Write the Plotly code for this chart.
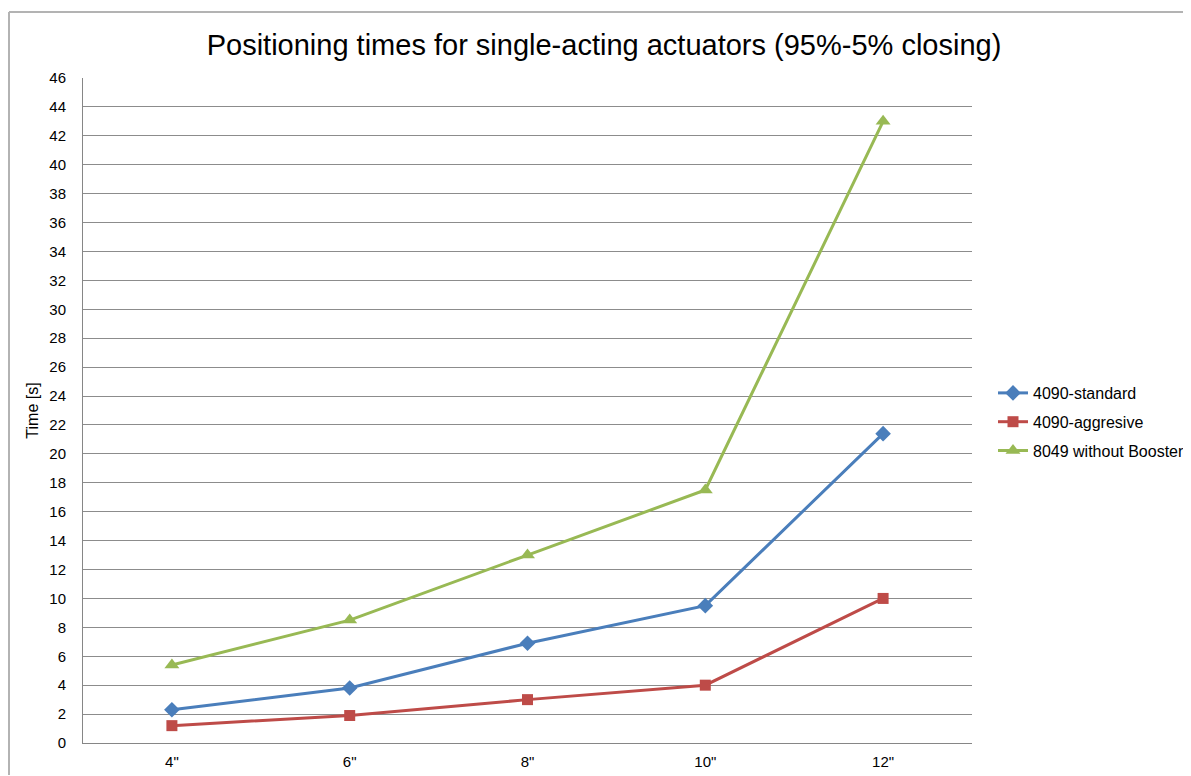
import plotly.graph_objects as go

categories = ['4"', '6"', '8"', '10"', '12"']
standard = [2.3, 3.8, 6.9, 9.5, 21.4]
aggressive = [1.2, 1.9, 3.0, 4.0, 10.0]
no_booster = [5.4, 8.5, 13.0, 17.5, 43.0]
y_ticks = list(range(0, 47, 2))

# page has an 8px body margin at top-left
OFF = 8
W, H = 1191 - OFF, 776 - OFF
L, T = 83 - OFF, 78 - OFF
R = W - (972 - OFF)
B = H - (743 - OFF)
pw, ph = W - L - R, H - T - B

fig = go.Figure()
series = [
    ("4090-standard", standard, "#4A7EBB", "diamond", 12),
    ("4090-aggresive", aggressive, "#BE4B48", "square", 11),
    ("8049 without Booster", no_booster, "#98B954", "triangle-up", 13),
]
for i, (name, vals, col, sym, sz) in enumerate(series):
    fig.add_trace(go.Scatter(
        x=categories, y=vals, name=name, mode="lines+markers",
        line=dict(color=col, width=3),
        marker=dict(symbol=sym, size=sz, color=col),
        legendgroup=f"g{i}",
    ))

fig.update_layout(
    width=W, height=H,
    margin=dict(l=L, r=R, t=T, b=B, autoexpand=False),
    paper_bgcolor="white", plot_bgcolor="white",
    font=dict(family="Liberation Sans, Arial, sans-serif", size=15, color="black"),
    title=dict(text="Positioning times for single-acting actuators (95%-5% closing)",
               x=(604 - OFF) / W, xanchor="center", y=1 - (45 - OFF) / H, yanchor="middle",
               font=dict(size=29, color="black")),
    showlegend=True,
    legend=dict(x=(993 - OFF - L) / pw, xanchor="left", y=(743 - 422) / ph, yanchor="middle",
                font=dict(size=16), tracegroupgap=5, bgcolor="rgba(0,0,0,0)",
                traceorder="grouped", itemwidth=30),
)
fig.update_xaxes(
    type="category", range=[-0.5, 4.5], showgrid=False, automargin=False,
    showline=True, linecolor="#868686", linewidth=1,
    ticks="", tickfont=dict(size=15), ticklabelstandoff=5,
)
fig.update_yaxes(
    range=[0, 46], tickvals=y_ticks, showgrid=True, gridcolor="#8c8c8c", gridwidth=1,
    showline=True, linecolor="#868686", linewidth=1, zeroline=False, automargin=False,
    ticks="", tickfont=dict(size=15), ticklabelstandoff=13,
    title=dict(text="Time [s]", font=dict(size=16), standoff=6),
)
# outer chart frame (only left and top edges are visible in the reference)
bx = (1 - L) / pw
ty = 1 + (T - 4) / ph
by = -(B - 1) / ph
fig.add_shape(type="line", xref="paper", yref="paper", x0=bx, x1=bx, y0=by, y1=ty,
              line=dict(color="#b3b3b3", width=2), layer="below")
fig.add_shape(type="line", xref="paper", yref="paper", x0=bx, x1=(W - 1 - L) / pw, y0=ty, y1=ty,
              line=dict(color="#b3b3b3", width=2), layer="below")

fig.write_html("out.html")
